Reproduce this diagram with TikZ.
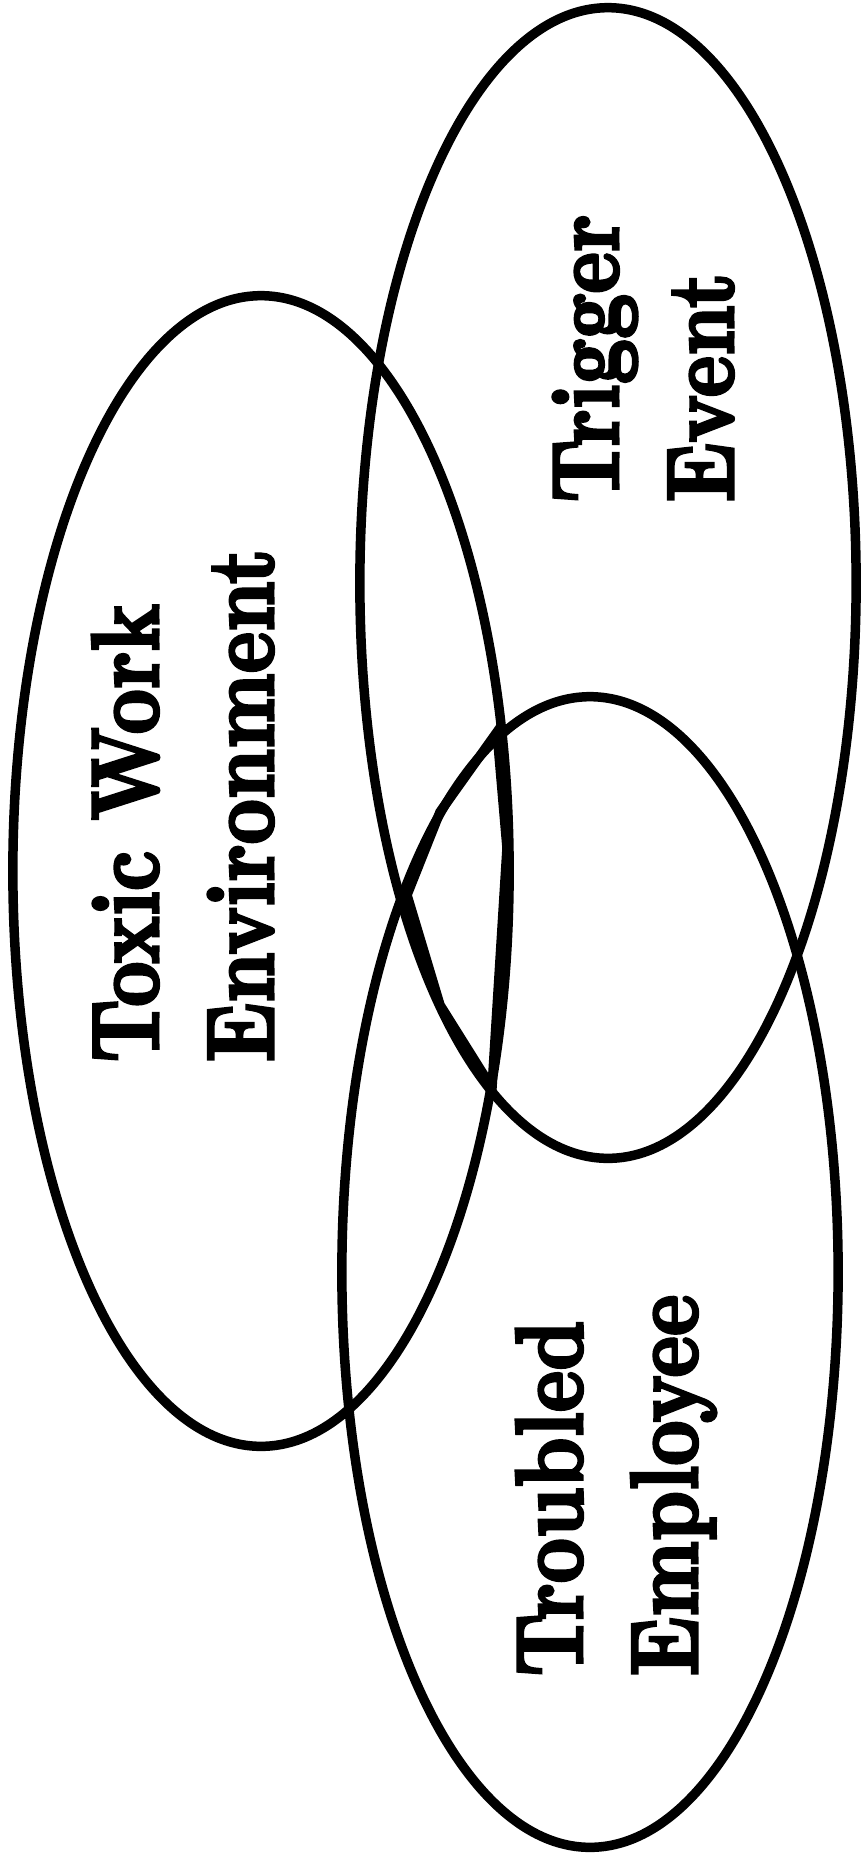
\documentclass[tikz,border=0pt]{standalone}
\usepackage{fontspec}
\newfontfamily\setfont{lmroman10-bold}[Extension=.otf, FakeBold=3.5]
\usepackage{graphicx}
\usepackage{tikz}
\usetikzlibrary{shapes.geometric}

\newcommand{\setname}[2]{\scalebox{0.83}[1]{\begin{tabular}[b]{@{}l@{}}#1\\#2\end{tabular}}}

\begin{document}
\begin{tikzpicture}[
                x=0.01cm, y=-0.01cm,
                set/.style={ellipse, draw, line width=2.7pt, minimum width=4.96cm, minimum height=11.5cm, inner sep=0pt},
                settext/.style={rotate=90, anchor=base west, inner sep=0pt, font=\setfont\fontsize{27}{32.7}\selectfont}
            ]
                \useasboundingbox (0,0) rectangle (861,1862);
                % the three sets
                \node[set] (toxic) at (261,871) {};
                \node[set] (trigger) at (608,583) {};
                \node[set] (troubled) at (590,1272) {};
                % middle piece
                \coordinate (m1) at (497,732);
                \coordinate (m2) at (440,812);
                \coordinate (m3) at (407,895);
                \coordinate (m4) at (440,1005);
                \coordinate (m5) at (492,1088);
                \coordinate (m6) at (507,848);
                \draw[line width=2.7pt] (m1) -- (m2) -- (m3) -- (m4) -- (m5) -- (m6) -- cycle;
                % names
                \node[settext] (toxictext) at (273,1063) {\setname{Toxic Work}{Environment}};
                \node[settext] (triggertext) at (733,503) {\setname{Trigger}{Event}};
                \node[settext] (troubledtext) at (697,1677) {\setname{Troubled}{Employee}};
            \end{tikzpicture}
\end{document}
